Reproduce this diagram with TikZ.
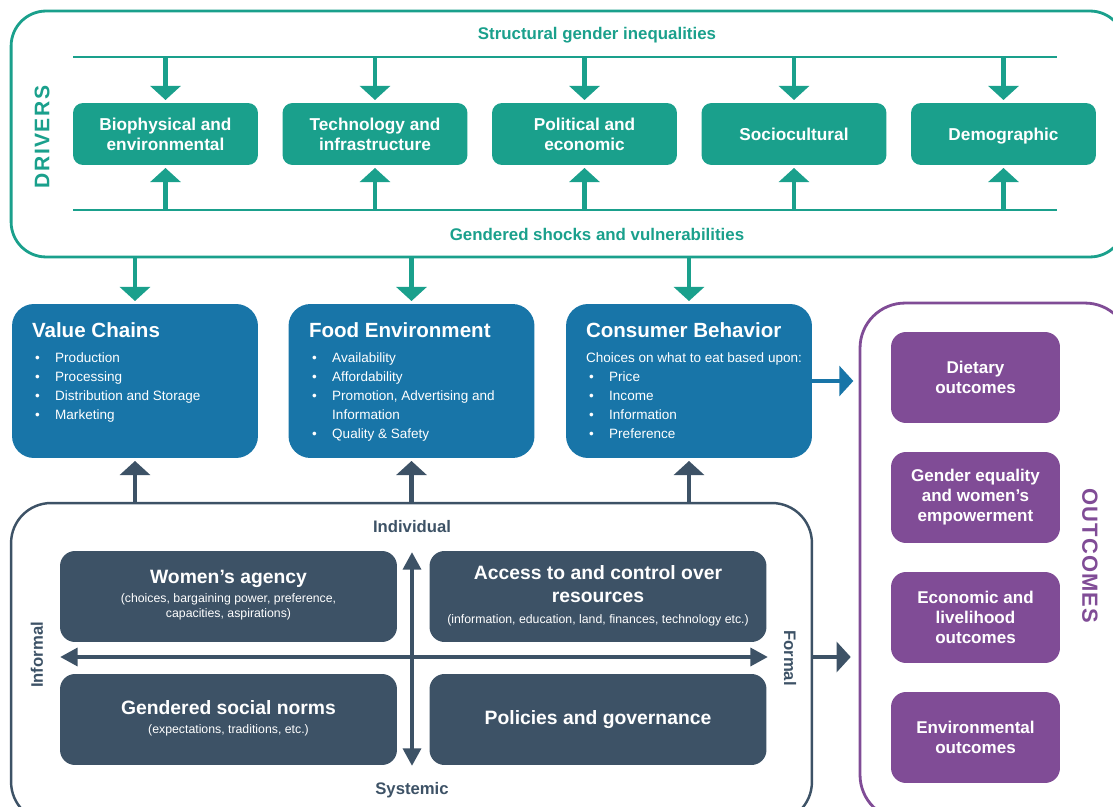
\documentclass[tikz,border=0pt]{standalone}
\usepackage{fontspec}
\setmainfont{Liberation Sans}
\usetikzlibrary{arrows.meta,positioning}
\definecolor{drvteal}{RGB}{26,160,140}
\definecolor{fsblue}{RGB}{24,117,168}
\definecolor{slate}{RGB}{61,82,102}
\definecolor{outpurple}{RGB}{128,76,150}
\newcommand\itm[1]{\hspace*{1.8pt}\makebox[11.4pt][l]{\textbullet}#1}
\newcommand\bluetitle{\bfseries\fontsize{11.7}{13.5}\selectfont}
\newcommand\subtxt[1]{{\mdseries\fontsize{7}{8.8}\selectfont\begin{tabular}[t]{@{}c@{}}#1\end{tabular}}}
\tikzset{
  outerbox/.style={rectangle, line width=1.6pt, fill=none},
  drvbox/.style={rectangle, rounded corners=0.2cm, fill=drvteal, text=white, align=center,
    font=\bfseries\fontsize{9.8}{11.4}\selectfont, minimum width=3.7cm, minimum height=1.24cm},
  drvlabel/.style={text=drvteal, font=\bfseries\fontsize{9.6}{11}\selectfont},
  drvline/.style={draw=drvteal, line width=1.2pt},
  drvarrow/.style={draw=drvteal, line width=2.5pt, shorten >=1.5pt, -{Triangle[width=17pt,length=8pt]}},
  bluebox/.style={rectangle, rounded corners=0.44cm, fill=fsblue, minimum width=4.92cm, minimum height=3.08cm},
  bluetext/.style={text=white, align=left, inner sep=0pt, font=\fontsize{7.7}{10.8}\selectfont},
  bluearrow/.style={draw=fsblue, line width=2.5pt, shorten >=3pt, -{Triangle[width=17pt,length=8pt]}},
  darkbox/.style={rectangle, rounded corners=0.3cm, fill=slate, text=white, align=center,
    font=\bfseries\fontsize{11}{14}\selectfont, minimum width=6.74cm, minimum height=1.82cm},
  darklabel/.style={text=slate, font=\bfseries\fontsize{9.5}{11}\selectfont},
  slatearrow/.style={draw=slate, line width=2.5pt, shorten >=1.5pt, -{Triangle[width=17pt,length=8pt]}},
  axisarrow/.style={draw=slate, line width=2.8pt, {Triangle[width=10pt,length=10pt]}-{Triangle[width=10pt,length=10pt]}},
  outbox/.style={rectangle, rounded corners=0.3cm, fill=outpurple, text=white, align=center,
    font=\bfseries\fontsize{9.7}{11.4}\selectfont, minimum width=3.38cm, minimum height=1.82cm}
}
\begin{document}
\begin{tikzpicture}[x=0.02cm,y=-0.02cm]
\useasboundingbox (0,0) rectangle (1113,807);
\clip (0,0) rectangle (1113,807);

% drivers
\node[outerbox, draw=drvteal, minimum width=22.28cm, minimum height=4.92cm, rounded corners=0.7cm] (drivers) at (568,134) {};
\node[text=drvteal, rotate=90, font=\bfseries\addfontfeatures{LetterSpace=7}\fontsize{12}{14}\selectfont] (drvtitle) at (42,137) {DRIVERS};
\node[drvlabel] (sgi) at (597,35) {Structural gender inequalities};
\node[drvlabel] (gsv) at (597,234) {Gendered shocks and vulnerabilities};
\coordinate (sgil) at (73,57); \coordinate (sgir) at (1057,57);
\coordinate (gsvl) at (73,210); \coordinate (gsvr) at (1057,210);
\draw[drvline] (sgil) -- (sgir);
\draw[drvline] (gsvl) -- (gsvr);
\node[drvbox] (bio) at (165.5,134) {Biophysical and\\environmental};
\node[drvbox] (tech) at (375,134) {Technology and\\infrastructure};
\node[drvbox] (pol) at (584.5,134) {Political and\\economic};
\node[drvbox, text height=7pt, text depth=0pt] (soc) at (794,134) {Sociocultural};
\node[drvbox, text height=7pt, text depth=0pt] (dem) at (1003.5,134) {Demographic};
\foreach \d in {bio,tech,pol,soc,dem}{
  \draw[drvarrow] (\d |- sgil) -- (\d.north);
  \draw[drvarrow] (\d |- gsvl) -- (\d.south);
}

% food system
\node[bluebox] (vc) at (135,381) {};
\node[bluebox] (fe) at (411.5,381) {};
\node[bluebox] (cb) at (689,381) {};
\node[bluetext, anchor=north west] (vctext) at ([shift={(20,19)}]vc.north west)
  {{\bluetitle Value Chains}\\[3pt]
   \itm{Production}\\ \itm{Processing}\\ \itm{Distribution and Storage}\\ \itm{Marketing}};
\node[bluetext, anchor=north west] (fetext) at ([shift={(20.5,19)}]fe.north west)
  {{\bluetitle Food Environment}\\[3pt]
   \itm{Availability}\\ \itm{Affordability}\\ \itm{Promotion, Advertising and}\\
   \hspace*{13.2pt}Information\\ \itm{Quality \& Safety}};
\node[bluetext, anchor=north west] (cbtext) at ([shift={(20,19)}]cb.north west)
  {{\bluetitle Consumer Behavior}\\[3pt]
   Choices on what to eat based upon:\\ \itm{Price}\\ \itm{Income}\\ \itm{Information}\\ \itm{Preference}};
\foreach \b in {vc,fe,cb}
  \draw[drvarrow] (\b |- drivers.south) -- (\b.north);

% outcomes
\node[outerbox, draw=outpurple, minimum width=5.4cm, minimum height=10.34cm, rounded corners=0.9cm] (outcomes) at (995,561.5) {};
\node[text=outpurple, rotate=-90, font=\bfseries\addfontfeatures{LetterSpace=5}\fontsize{12.5}{14}\selectfont] (outtitle) at (1090,556) {OUTCOMES};
\node[outbox] (diet) at (975.5,377.5) {Dietary\\outcomes};
\node[outbox] (gender) at (975.5,497.5) {Gender equality\\and women’s\\empowerment};
\node[outbox] (econ) at (975.5,617.5) {Economic and\\livelihood\\outcomes};
\node[outbox] (env) at (975.5,737.5) {Environmental\\outcomes};
\draw[bluearrow] (cb.east) -- (cb.east -| outcomes.west);

% gender dimensions
\node[outerbox, draw=slate, line width=1.4pt, minimum width=16.02cm, minimum height=6.38cm, rounded corners=0.8cm] (agencybox) at (411.5,662.5) {};
\foreach \b in {vc,fe,cb}
  \draw[slatearrow] (\b |- agencybox.north) -- (\b.south);
\node[darklabel] (indiv) at (412,527) {Individual};
\node[darklabel] (syst) at (412,790) {Systemic};
\node[darklabel, rotate=90] (inform) at (37,655) {Informal};
\node[darklabel, rotate=-90] (formal) at (790,658) {Formal};
\node[darkbox] (wa) at (228.5,596.5) {Women’s agency\\[-3.5pt]\subtxt{(choices, bargaining power, preference,\\capacities, aspirations)}};
\node[darkbox, font=\bfseries\fontsize{11}{13.5}\selectfont] (ac) at (598,596.5) {Access to and control over\\resources\\[-2pt]\subtxt{(information, education, land, finances, technology etc.)}};
\node[darkbox] (gn) at (228.5,719.5) {Gendered social norms\\[-3.5pt]\subtxt{(expectations, traditions, etc.)}};
\node[darkbox] (pg) at (598,719.5) {Policies and governance};
\coordinate (vtop) at (412,552); \coordinate (vbot) at (412,766);
\coordinate (hl) at (60,657); \coordinate (hr) at (768,657);
\draw[axisarrow] (vbot) -- (vtop);
\draw[axisarrow] (hl) -- (hr);
\draw[slatearrow] (agencybox.east |- hr) -- ([xshift=-3pt]outcomes.west |- hr);
\end{tikzpicture}
\end{document}
